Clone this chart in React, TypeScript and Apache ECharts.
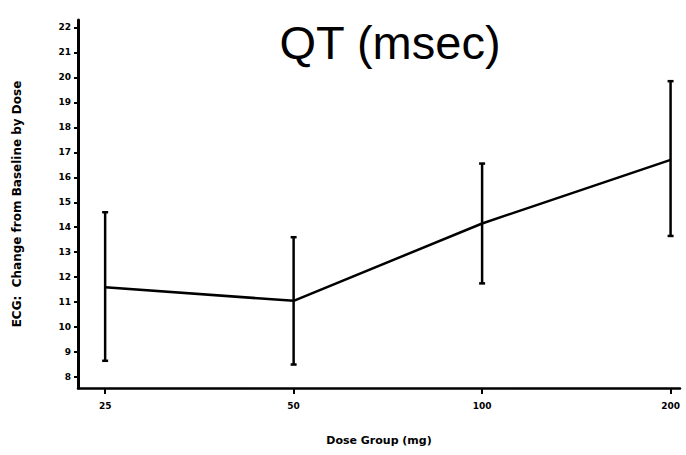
import React, { useEffect, useRef } from "react";
import * as echarts from "echarts";

const doseGroups = ["25", "50", "100", "200"];
const meanChange = [11.6, 11.05, 14.15, 16.7];
const lowerBound = [8.65, 8.5, 11.75, 13.65];
const upperBound = [14.6, 13.6, 16.55, 19.85];
const yTickValues = [8, 9, 10, 11, 12, 13, 14, 15, 16, 17, 18, 19, 20, 21, 22];

export default function App() {
  const ref = useRef<HTMLDivElement>(null);
  useEffect(() => {
    document.body.style.margin = "0";
    const chart = echarts.init(ref.current!, null, { renderer: "svg" });
    const xIdx = doseGroups.map((_, i) => i);
    const labelFont = { fontFamily: "DejaVu Sans", fontWeight: "bold" as const, color: "#000" };
    chart.setOption({
      animation: false,
      backgroundColor: "#fff",
      title: {
        text: "QT (msec)",
        left: 385,
        top: 14,
        textAlign: "center",
        textStyle: { fontFamily: "Liberation Sans", fontWeight: "normal", fontSize: 47, color: "#000" },
      },
      grid: { left: 78, right: 6, top: 20, bottom: 67, containLabel: false, outerBoundsMode: "none" },
      xAxis: {
        type: "value",
        min: -0.144,
        max: 3.05,
        name: "Dose Group (mg)",
        nameLocation: "middle",
        nameGap: 47,
        nameTextStyle: { ...labelFont, fontSize: 11 },
        splitLine: { show: false },
        axisLine: { onZero: false, lineStyle: { color: "#000", width: 2.5 } },
        axisTick: { show: true, customValues: xIdx, length: 6, lineStyle: { color: "#000", width: 2 } },
        axisLabel: {
          customValues: xIdx,
          margin: 13,
          ...labelFont,
          fontSize: 9,
          formatter: (v: number) => doseGroups[Math.round(v)] ?? "",
        },
      },
      yAxis: {
        type: "value",
        min: 7.56,
        max: 22.3,
        name: "ECG:  Change from Baseline by Dose",
        nameLocation: "middle",
        nameRotate: 90,
        nameGap: 55,
        nameTextStyle: { ...labelFont, fontSize: 12 },
        splitLine: { show: false },
        axisLine: { show: true, onZero: false, lineStyle: { color: "#000", width: 3 } },
        axisTick: { show: true, customValues: yTickValues, length: 4, lineStyle: { color: "#000", width: 2 } },
        axisLabel: { customValues: yTickValues, margin: 7, ...labelFont, fontSize: 9 },
      },
      series: [
        {
          type: "line",
          data: xIdx.map((i) => [i, meanChange[i]]),
          symbol: "none",
          lineStyle: { color: "#000", width: 2.5 },
          z: 3,
        },
        {
          type: "custom",
          data: xIdx.map((i) => [i, lowerBound[i], upperBound[i]]),
          renderItem: (params: any, api: any) => {
            const x = api.value(0);
            const lo = api.coord([x, api.value(1)]);
            const hi = api.coord([x, api.value(2)]);
            const cap = 3;
            const style = { stroke: "#000", lineWidth: 2.5 };
            return {
              type: "group",
              children: [
                { type: "line", shape: { x1: lo[0], y1: lo[1], x2: hi[0], y2: hi[1] }, style },
                { type: "line", shape: { x1: lo[0] - cap, y1: lo[1], x2: lo[0] + cap, y2: lo[1] }, style },
                { type: "line", shape: { x1: hi[0] - cap, y1: hi[1], x2: hi[0] + cap, y2: hi[1] }, style },
              ],
            };
          },
          z: 4,
        },
      ],
    });
    return () => chart.dispose();
  }, []);
  return <div ref={ref} style={{ width: 686, height: 455 }} />;
}
